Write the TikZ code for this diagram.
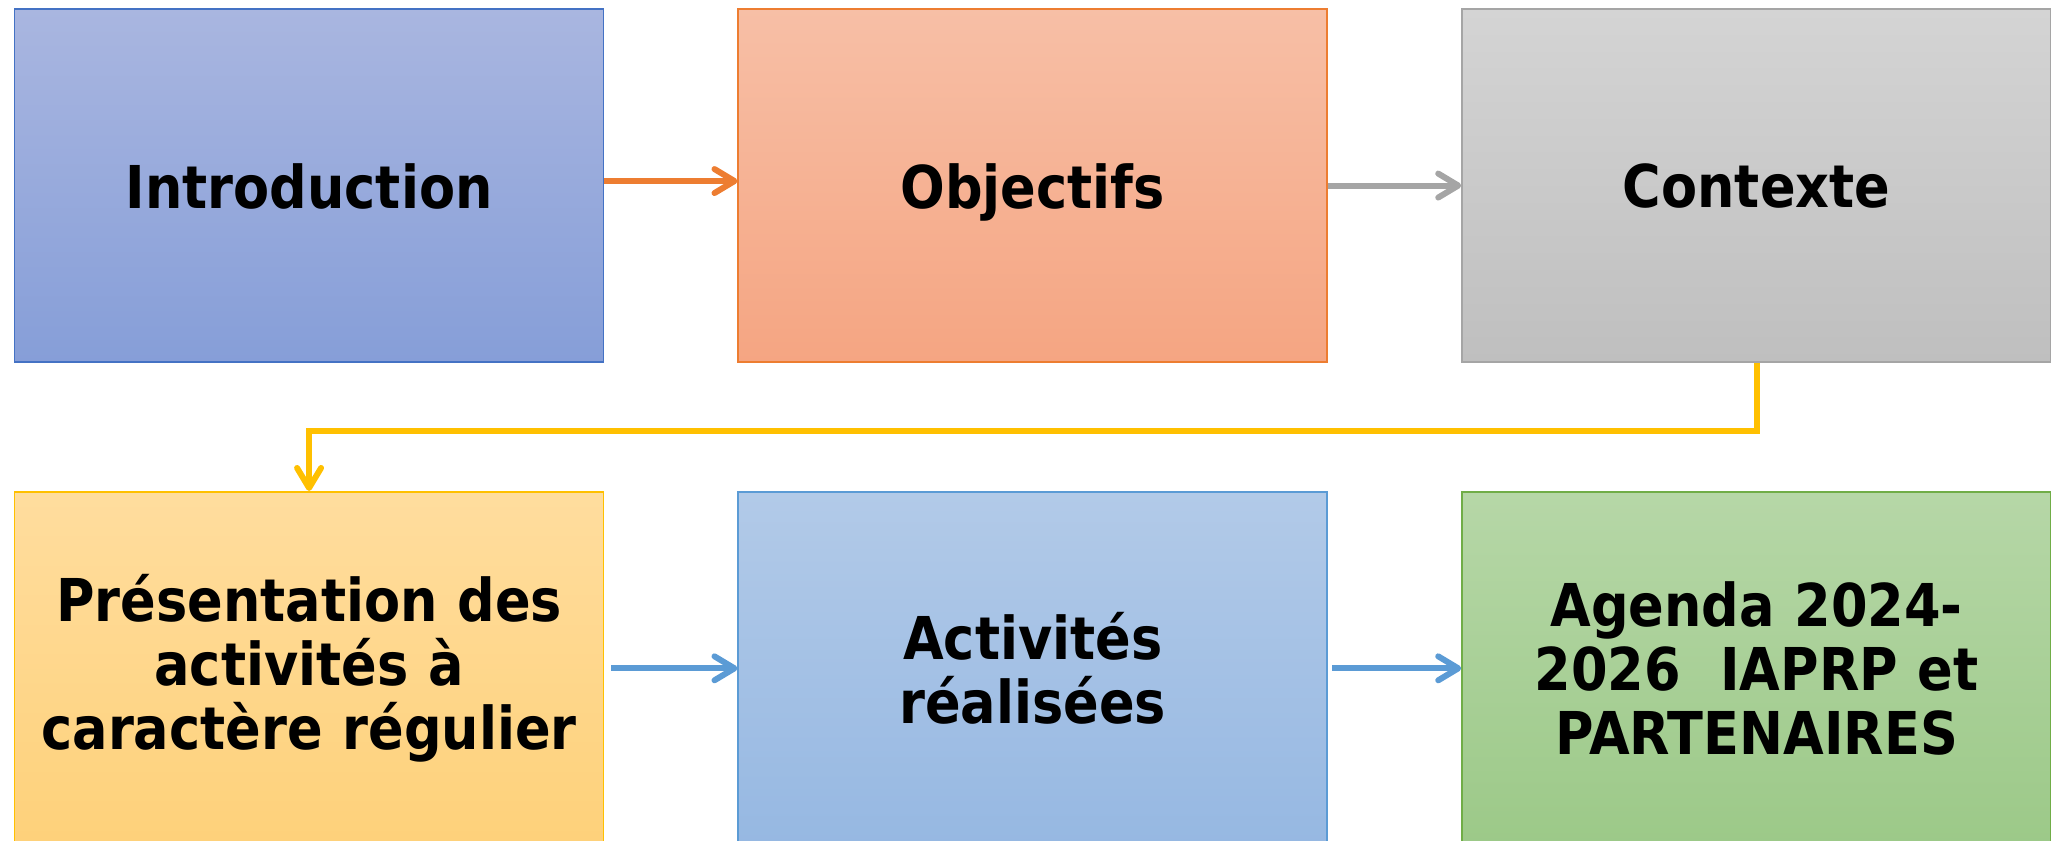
\documentclass[tikz,border=0pt]{standalone}
\usepackage{fontspec}
\setmainfont[FakeStretch=0.89]{DejaVu Sans}
\usepackage{xcolor}
\usetikzlibrary{arrows.meta,matrix}

\definecolor{introTop}{RGB}{169,182,224}
\definecolor{introBot}{RGB}{134,158,216}
\definecolor{introLine}{RGB}{68,114,196}
\definecolor{objTop}{RGB}{247,191,166}
\definecolor{objBot}{RGB}{245,165,130}
\definecolor{objLine}{RGB}{237,125,49}
\definecolor{ctxTop}{RGB}{212,212,212}
\definecolor{ctxBot}{RGB}{191,191,191}
\definecolor{ctxLine}{RGB}{165,165,165}
\definecolor{presTop}{RGB}{255,221,158}
\definecolor{presBot}{RGB}{254,209,122}
\definecolor{presLine}{RGB}{255,192,0}
\definecolor{actTop}{RGB}{178,202,232}
\definecolor{actBot}{RGB}{150,184,226}
\definecolor{actLine}{RGB}{91,155,213}
\definecolor{agdTop}{RGB}{182,215,167}
\definecolor{agdBot}{RGB}{156,201,136}
\definecolor{agdLine}{RGB}{112,173,71}

\begin{document}
\begin{tikzpicture}[auto,
    block_center/.style ={rectangle, line width=0.5pt,
      text width=5.7cm, inner xsep=0.095cm, text centered,
      font=\bfseries\fontsize{16.8}{18.2}\selectfont,
      minimum height=3.53cm},
    one_line/.style ={block_center, text depth=0pt},
      line/.style ={draw, line width=1.7pt,
      -{Straight Barb[length=2mm,width=2.4mm,round]}, shorten >=0pt}]
    \useasboundingbox (0,0) rectangle (20.51,-8.41);
    \clip (0,0) rectangle (20.51,-8.41);
    % the six boxes in two rows
    \matrix [column sep=1.33cm,row sep=1.28cm,anchor=north west,inner sep=0pt] at (0.13,-0.075) {
      % row 1
      \node [one_line, draw=introLine, top color=introTop, bottom color=introBot] (intro) {Introduction}; &
      \node [one_line, draw=objLine, top color=objTop, bottom color=objBot] (obj) {Objectifs}; &
      \node [one_line, draw=ctxLine, top color=ctxTop, bottom color=ctxBot] (ctx) {Contexte}; \\
      % row 2
      \node [block_center, draw=presLine, top color=presTop, bottom color=presBot] (pres) {Présentation des\\activités à\\caractère régulier}; &
      \node [block_center, draw=actLine, top color=actTop, bottom color=actBot] (act) {Activités\\réalisées}; &
      \node [block_center, draw=agdLine, top color=agdTop, bottom color=agdBot] (agd) {Agenda 2024-\\2026~~IAPRP et\\PARTENAIRES}; \\
    };% end matrix
    % connecting the boxes
    \begin{scope}[every path/.style=line]
      \path [objLine] ([yshift=0.045cm]intro.east) -- ([yshift=0.045cm]obj.west);
      \path [ctxLine] (obj) -- (ctx);
      \path [presLine] (ctx.south) -- ++(0,-0.68) -| (pres.north);
      \path [actLine, shorten <=0.07cm] (pres) -- (act);
      \path [actLine, shorten <=0.04cm] (act) -- (agd);
    \end{scope}
  \end{tikzpicture}
\end{document}
